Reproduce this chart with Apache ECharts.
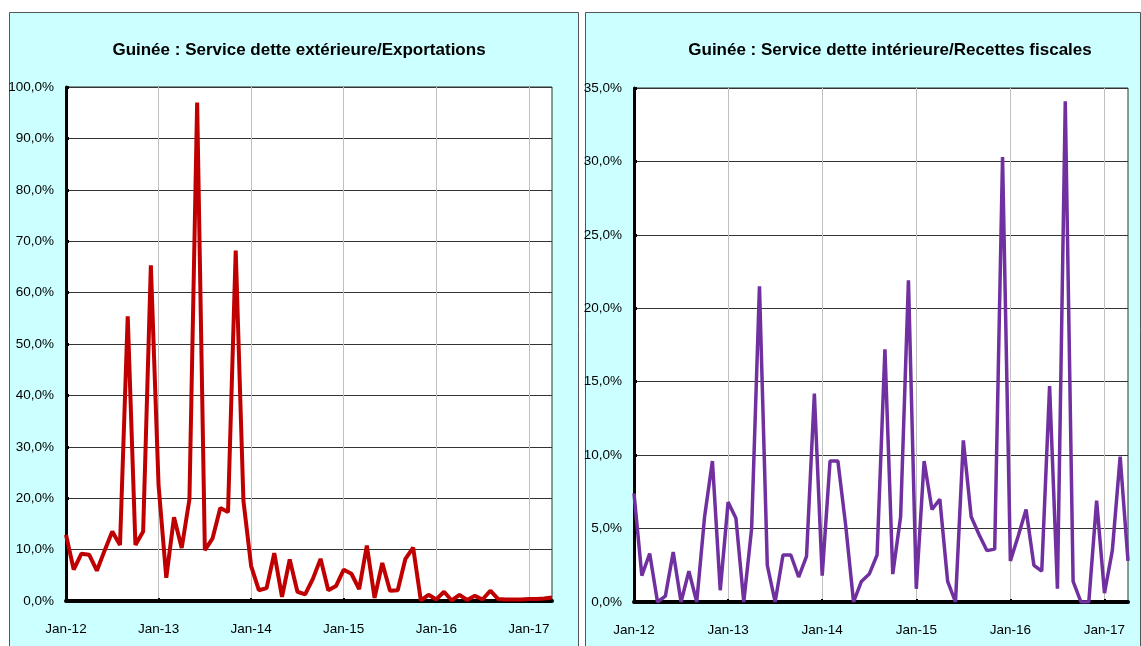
<!DOCTYPE html>
<html>
<head>
<meta charset="utf-8">
<title>Guinée</title>
<script src="https://cdn.jsdelivr.net/npm/echarts@6/dist/echarts.min.js"></script>
<style type="text/css">
	body{ margin:0; padding:0; background:#fff; }
	div#main{ width:1141px; height:646px; }
</style>
</head>
<body>
<div id="main"></div>
<script type="text/javascript">
var months = ['Jan-12','Feb-12','Mar-12','Apr-12','May-12','Jun-12','Jul-12','Aug-12','Sep-12','Oct-12','Nov-12','Dec-12',
	'Jan-13','Feb-13','Mar-13','Apr-13','May-13','Jun-13','Jul-13','Aug-13','Sep-13','Oct-13','Nov-13','Dec-13',
	'Jan-14','Feb-14','Mar-14','Apr-14','May-14','Jun-14','Jul-14','Aug-14','Sep-14','Oct-14','Nov-14','Dec-14',
	'Jan-15','Feb-15','Mar-15','Apr-15','May-15','Jun-15','Jul-15','Aug-15','Sep-15','Oct-15','Nov-15','Dec-15',
	'Jan-16','Feb-16','Mar-16','Apr-16','May-16','Jun-16','Jul-16','Aug-16','Sep-16','Oct-16','Nov-16','Dec-16',
	'Jan-17','Feb-17','Mar-17','Apr-17'];

// service dette extérieure / exportations (%)
var detteExt = [12.9, 6.1, 9.2, 9.0, 5.9, 9.8, 13.5, 10.9, 55.4, 10.9, 13.5, 65.3,
	22.5, 4.5, 16.3, 10.3, 19.8, 97.0, 9.9, 12.2, 18.1, 17.3, 68.2, 19.5,
	6.8, 2.1, 2.5, 9.3, 0.8, 8.1, 1.8, 1.3, 4.3, 8.2, 2.1, 2.9,
	6.1, 5.3, 2.3, 10.8, 0.6, 7.4, 2.0, 2.1, 8.2, 10.4, 0.1, 1.2,
	0.3, 1.8, 0.1, 1.2, 0.2, 1.0, 0.3, 2.0, 0.4, 0.3, 0.3, 0.3,
	0.4, 0.4, 0.5, 0.7];

// service dette intérieure / recettes fiscales (%)
var detteInt = [7.4, 1.8, 3.3, 0, 0.4, 3.4, 0, 2.1, 0, 5.8, 9.6, 0.8,
	6.8, 5.7, 0, 5.0, 21.5, 2.5, 0, 3.2, 3.2, 1.7, 3.1, 14.2,
	1.8, 9.6, 9.6, 5.2, 0, 1.4, 1.9, 3.2, 17.2, 1.9, 5.8, 21.9,
	0.9, 9.6, 6.3, 7.0, 1.4, 0, 11.0, 5.8, 4.6, 3.5, 3.6, 30.3,
	2.8, 4.5, 6.3, 2.5, 2.1, 14.7, 0.9, 34.1, 1.4, 0, 0, 6.9,
	0.6, 3.5, 9.9, 2.8];

var titres = ['Guinée : Service dette extérieure/Exportations', 'Guinée : Service dette intérieure/Recettes fiscales'];

var police = "'Liberation Sans', Arial, sans-serif";

function janvier(i){ return i % 12 === 0; }

function pct(v){ return v.toFixed(1).replace('.', ',') + '%'; }

function axeX(idx){
	return {
		type: 'category',
		gridIndex: idx,
		data: months,
		boundaryGap: false,
		axisLine: { lineStyle: { color: '#000', width: 4 } },
		axisTick: { inside: true, length: 3, interval: janvier, lineStyle: { color: '#000', width: 2 } },
		axisLabel: { interval: janvier, margin: 21, color: '#000', fontSize: 13.5, fontFamily: police },
		splitLine: { show: true, interval: janvier, lineStyle: { color: '#c0c0c0', width: 1 } }
	};
}

function axeY(idx, max, step){
	return {
		type: 'value',
		gridIndex: idx,
		min: 0,
		max: max,
		interval: step,
		axisLine: { show: true, lineStyle: { color: '#000', width: 3 } },
		axisTick: { show: true, inside: true, length: 3, lineStyle: { color: '#000', width: 3 } },
		axisLabel: { margin: 12, color: '#000', fontSize: 13.5, fontFamily: police, formatter: pct },
		splitLine: { show: true, lineStyle: { color: '#333', width: 1 } }
	};
}

var myChart = echarts.init(document.getElementById('main'));
var option = {
	backgroundColor: '#fff',
	animation: false,
	graphic: [
		{ type: 'rect', z: -10, shape: { x: 9.5, y: 12.5, width: 569, height: 650 }, style: { fill: '#ccffff', stroke: '#555', lineWidth: 1 } },
		{ type: 'rect', z: -10, shape: { x: 585.5, y: 12.5, width: 555, height: 650 }, style: { fill: '#ccffff', stroke: '#555', lineWidth: 1 } }
	],
	title: [
		{ text: titres[0], left: 294, top: 37, textAlign: 'center', textStyle: { fontSize: 17, fontWeight: 'bold', color: '#000', fontFamily: police } },
		{ text: titres[1], left: 885, top: 37, textAlign: 'center', textStyle: { fontSize: 17, fontWeight: 'bold', color: '#000', fontFamily: police } }
	],
	grid: [
		{ left: 66, top: 87, width: 486, height: 514, show: true, backgroundColor: '#fff', borderColor: '#333', borderWidth: 1 },
		{ left: 634, top: 88, width: 494, height: 514, show: true, backgroundColor: '#fff', borderColor: '#333', borderWidth: 1 }
	],
	xAxis: [axeX(0), axeX(1)],
	yAxis: [axeY(0, 100, 10), axeY(1, 35, 5)],
	series: [
		{
			name: 'Dette extérieure/Exportations',
			type: 'line',
			xAxisIndex: 0,
			yAxisIndex: 0,
			data: detteExt,
			showSymbol: false,
			lineStyle: { color: '#c00000', width: 4 },
			z: 3
		},
		{
			name: 'Dette intérieure/Recettes fiscales',
			type: 'line',
			xAxisIndex: 1,
			yAxisIndex: 1,
			data: detteInt,
			showSymbol: false,
			lineStyle: { color: '#7030a0', width: 3.5 },
			z: 3
		}
	]
};
myChart.setOption(option);
</script>
</body>
</html>
